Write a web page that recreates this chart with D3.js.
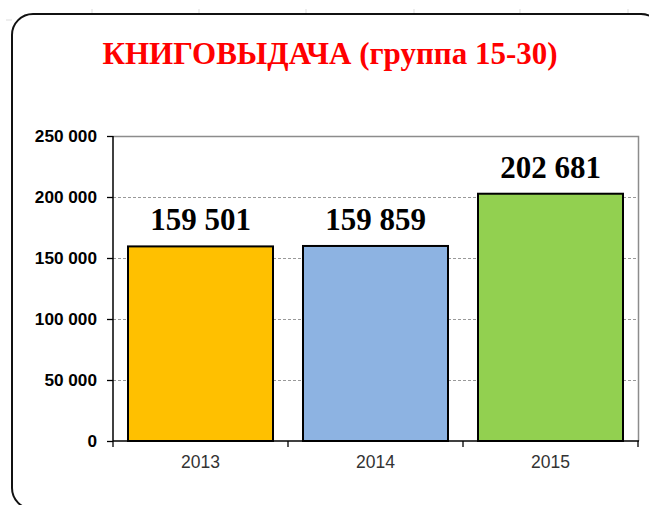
<!DOCTYPE html>
<html>
<head>
<meta charset="utf-8">
<script src="https://cdn.jsdelivr.net/npm/d3@7"></script>
<style>
  html, body { margin: 0; padding: 0; background: #fff; }
  svg { display: block; }
</style>
</head>
<body>
<svg id="chart" width="649" height="505"></svg>
<script>
const title = "КНИГОВЫДАЧА (группа 15-30)";
const categories = ["2013", "2014", "2015"];
const values = [159501, 159859, 202681];
const colors = ["#FFC000", "#8DB3E2", "#92D050"];
const yTicks = [0, 50000, 100000, 150000, 200000, 250000];

const svg = d3.select("#chart");
const m = { left: 113, right: 638, top: 136, bottom: 441 };

// decorative faint ruler ticks at the top
[92, 199, 306, 414, 520, 628].forEach(xx => {
  svg.append("line").attr("x1", xx).attr("x2", xx).attr("y1", 9).attr("y2", 14)
    .attr("stroke", "#ddd").attr("stroke-width", 1);
});
svg.append("line").attr("x1", 6).attr("x2", 12).attr("y1", 20).attr("y2", 20)
  .attr("stroke", "#ddd").attr("stroke-width", 1);

// rounded frame
svg.append("rect")
  .attr("x", 12).attr("y", 14).attr("width", 650).attr("height", 495)
  .attr("rx", 21).attr("ry", 21)
  .attr("fill", "none").attr("stroke", "#111").attr("stroke-width", 2);

// title
svg.append("text")
  .attr("x", 330).attr("y", 64)
  .attr("text-anchor", "middle")
  .attr("font-family", "'Liberation Serif', 'Times New Roman', serif")
  .attr("font-weight", "bold")
  .attr("font-size", 31)
  .attr("fill", "#FF0000")
  .text(title);

const x = d3.scaleBand().domain(categories).range([m.left, m.right]).paddingInner(30/175).paddingOuter(15/175);
const y = d3.scaleLinear().domain([0, 250000]).range([m.bottom, m.top]);

// gridlines
svg.append("g").selectAll("line").data(yTicks.filter(d => d > 0 && d < 250000)).join("line")
  .attr("x1", m.left).attr("x2", m.right)
  .attr("y1", d => Math.round(y(d)) + 0.5).attr("y2", d => Math.round(y(d)) + 0.5)
  .attr("stroke", "#999").attr("stroke-width", 1).attr("stroke-dasharray", "3,2");

// plot area top & right border (gray)
svg.append("path")
  .attr("d", `M${m.left},${m.top + 0.5}H${m.right + 0.5}V${m.bottom}`)
  .attr("fill", "none").attr("stroke", "#8c8c8c").attr("stroke-width", 1.5);

// bars
svg.append("g").selectAll("rect").data(values).join("rect")
  .attr("x", (d, i) => x(categories[i]))
  .attr("y", d => y(d))
  .attr("width", x.bandwidth())
  .attr("height", d => y(0) - y(d))
  .attr("fill", (d, i) => colors[i])
  .attr("stroke", "#000").attr("stroke-width", 2);

// y axis
const fmt = d => d === 0 ? "0" : d3.format(",")(d).replace(/,/g, " ");
const yAxis = svg.append("g").attr("transform", `translate(${m.left},0)`)
  .call(d3.axisLeft(y).tickValues(yTicks).tickSize(6).tickPadding(10).tickFormat(fmt));
yAxis.select(".domain").attr("stroke", "#000").attr("stroke-width", 1.5).attr("d", `M0,${m.top}V${m.bottom}`);
yAxis.selectAll(".tick line").attr("stroke", "#000").attr("stroke-width", 1.3);
yAxis.selectAll(".tick text")
  .attr("font-family", "Arial, 'Liberation Sans', sans-serif")
  .attr("font-weight", "bold").attr("font-size", 17.2).attr("fill", "#000");

// x axis
const xLinear = d3.scaleLinear().domain([0, 3]).range([m.left, m.right]);
const xAxisG = svg.append("g").attr("transform", `translate(0,${m.bottom})`);
xAxisG.append("line").attr("x1", m.left).attr("x2", m.right + 1).attr("y1", 0).attr("y2", 0)
  .attr("stroke", "#000").attr("stroke-width", 1.5);
xAxisG.selectAll(".xt").data([0, 1, 2, 3]).join("line")
  .attr("x1", d => xLinear(d)).attr("x2", d => xLinear(d))
  .attr("y1", 0).attr("y2", 6)
  .attr("stroke", "#000").attr("stroke-width", 1.3);
xAxisG.selectAll("text").data(categories).join("text")
  .attr("x", d => x(d) + x.bandwidth() / 2)
  .attr("y", 27)
  .attr("text-anchor", "middle")
  .attr("font-family", "Arial, 'Liberation Sans', sans-serif")
  .attr("font-size", 17.5).attr("fill", "#333")
  .text(d => d);

// data labels
svg.append("g").selectAll("text").data(values).join("text")
  .attr("x", (d, i) => x(categories[i]) + x.bandwidth() / 2)
  .attr("y", d => y(d) - 16)
  .attr("text-anchor", "middle")
  .attr("font-family", "'Liberation Serif', 'Times New Roman', serif")
  .attr("font-weight", "bold").attr("font-size", 31).attr("fill", "#000")
  .text(d => fmt(d));
</script>
</body>
</html>
